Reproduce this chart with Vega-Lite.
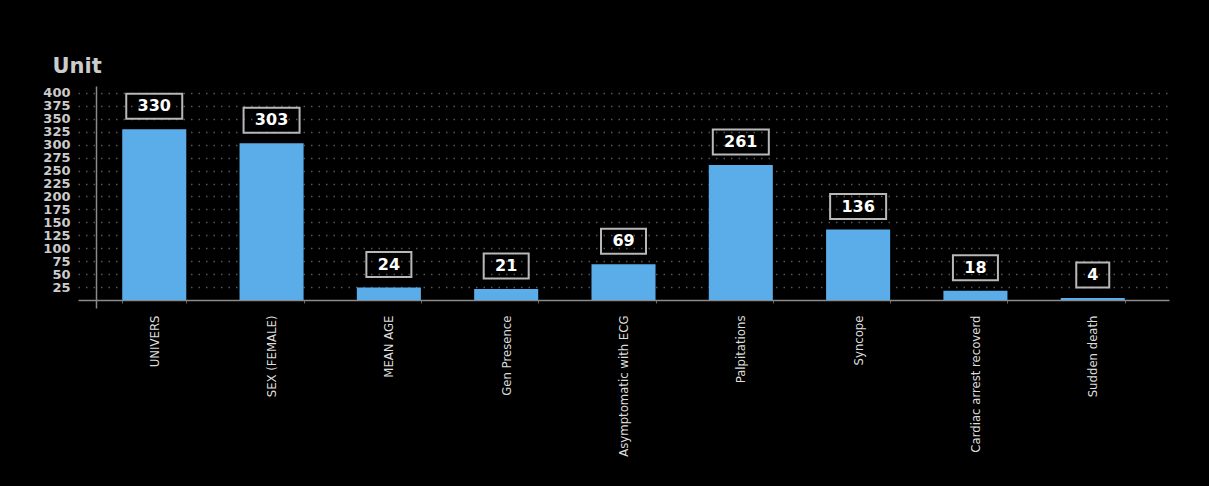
{
  "$schema": "https://vega.github.io/schema/vega-lite/v6.json",
  "width": 1091,
  "height": 222,
  "autosize": "none",
  "padding": {"left": 78, "top": 86, "right": 40, "bottom": 178},
  "background": "#000000",
  "config": {"view": {"stroke": null}},
  "data": {
    "values": [
      {"category": "UNIVERS", "value": 330},
      {"category": "SEX (FEMALE)", "value": 303},
      {"category": "MEAN AGE", "value": 24},
      {"category": "Gen Presence", "value": 21},
      {"category": "Asymptomatic with ECG", "value": 69},
      {"category": "Palpitations", "value": 261},
      {"category": "Syncope", "value": 136},
      {"category": "Cardiac arrest recoverd", "value": 18},
      {"category": "Sudden death", "value": 4}
    ]
  },
  "encoding": {
    "x": {
      "field": "category",
      "type": "nominal",
      "sort": null,
      "scale": {"paddingInner": 0.454, "paddingOuter": 0.377},
      "axis": {
        "title": null,
        "labelAngle": -90,
        "labelFont": "DejaVu Sans Condensed, DejaVu Sans",
        "labelFontSize": 13,
        "labelColor": "#dddddd",
        "domainColor": "#8a8a8a",
        "domainWidth": 1.5,
        "offset": -8,
        "ticks": true,
        "tickBand": "extent",
        "tickSize": 3,
        "tickColor": "#666666",
        "labelPadding": 12
      }
    },
    "y": {
      "field": "value",
      "type": "quantitative",
      "scale": {"domain": [-15.5, 413.5], "nice": false, "zero": false},
      "axis": {
        "title": "Unit",
        "titleAngle": 0,
        "titleAlign": "left",
        "titleBaseline": "alphabetic",
        "titleX": -44,
        "titleY": -14,
        "titleFont": "DejaVu Sans",
        "titleFontSize": 21,
        "titleFontWeight": "bold",
        "titleColor": "#cccccc",
        "values": [25, 50, 75, 100, 125, 150, 175, 200, 225, 250, 275, 300, 325, 350, 375, 400],
        "labelFont": "DejaVu Sans",
        "labelFontSize": 13,
        "labelFontWeight": "bold",
        "labelColor": "#cccccc",
        "labelOverlap": false,
        "labelPadding": 26,
        "ticks": false,
        "domainColor": "#8a8a8a",
        "domainWidth": 1.5,
        "offset": -18,
        "grid": true,
        "gridColor": "#555555",
        "gridDash": [1.5, 6],
        "gridWidth": 1.5
      }
    }
  },
  "layer": [
    {
      "mark": {"type": "bar", "color": "#5AADE8"},
      "encoding": {"y2": {"datum": 0}}
    },
    {
      "mark": {"type": "point", "filled": false, "stroke": "#b8b8b8", "strokeWidth": 2, "opacity": 1, "size": 625, "yOffset": -23},
      "encoding": {
        "shape": {
          "condition": [
            {"test": "datum.value >= 100", "value": "M-2.24,-1L2.24,-1L2.24,1L-2.24,1Z"},
            {"test": "datum.value >= 10", "value": "M-1.8,-1L1.8,-1L1.8,1L-1.8,1Z"}
          ],
          "value": "M-1.32,-1L1.32,-1L1.32,1L-1.32,1Z"
        }
      }
    },
    {
      "mark": {"type": "text", "color": "#ffffff", "font": "DejaVu Sans", "fontSize": 16, "fontWeight": "bold", "baseline": "middle", "dy": -23},
      "encoding": {"text": {"field": "value", "type": "quantitative"}}
    }
  ]
}
